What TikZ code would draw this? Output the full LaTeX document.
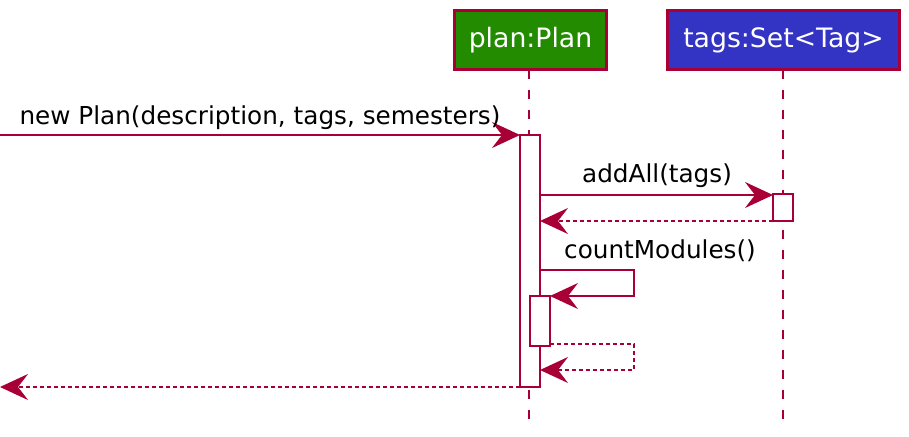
\documentclass[tikz,border=0pt]{standalone}
\usepackage{fontspec}
\setmainfont{DejaVu Sans}
\usetikzlibrary{arrows.meta}
\definecolor{pline}{HTML}{A80036}
\definecolor{pgreen}{HTML}{228B00}
\definecolor{pblue}{HTML}{3333C4}
\begin{document}
\begin{tikzpicture}[x=1pt,y=-1pt,
  every node/.style={inner sep=0pt,outer sep=0pt},
  lbl/.style={font=\fontsize{24.7}{28}\selectfont,text=black},
  headbox/.style={draw=pline,line width=3pt,font=\fontsize{26.7}{30}\selectfont,text=white},
  life/.style={draw=pline,line width=1.6pt,dash pattern=on 9pt off 11pt},
  actbox/.style={draw=pline,line width=1.6pt,fill=white},
  tipend/.style={-{Stealth[length=28pt,width=26pt,inset=10pt]}},
  msg/.style={draw=pline,line width=1.6pt,tipend},
  ret/.style={draw=pline,line width=1.6pt,dash pattern=on 4pt off 3pt,tipend}]
\useasboundingbox (0,0) rectangle (909,436);
% heads
\node[headbox,fill=pgreen,minimum width=152pt,minimum height=59pt] (plan) at (530.5,40) {plan:Plan};
\node[headbox,fill=pblue,minimum width=232pt,minimum height=59pt] (tags) at (783.5,40) {tags:Set<Tag>};
\coordinate (planEnd) at (529,425);
\coordinate (tagsEnd) at (783,425);
\draw[life] (plan.south -| planEnd) -- (planEnd);
\draw[life] (tags.south -| tagsEnd) -- (tagsEnd);
% activations
\node[actbox,minimum width=20pt,minimum height=252pt] (act1) at (530,261) {};
\node[actbox,minimum width=20pt,minimum height=27pt] (act2) at (783,207.5) {};
\node[actbox,minimum width=20pt,minimum height=50pt] (act3) at (540,321) {};
% incoming
\coordinate (src) at (0,135);
\draw[msg] (src) -- (src -| act1.west);
\node[lbl,anchor=base] (l1) at (260,124) {new Plan(description, tags, semesters)};
% addAll
\draw[msg] (act1.east |- 0,195) coordinate (a1) -- (a1 -| act2.west);
\node[lbl,anchor=base] (l2) at (657,182) {addAll(tags)};
\draw[ret] (act2.west |- 0,221) coordinate (r1) -- (r1 -| act1.east);
% countModules
\coordinate (c1) at (634,270);
\draw[msg] (act1.east |- c1) -- (c1) -- (634,296) -- (act3.east |- 0,296);
\node[lbl,anchor=base] (l3) at (660,258) {countModules()};
\coordinate (c2) at (634,344);
\draw[ret] (act3.east |- c2) -- (c2) -- (634,370) -- (act1.east |- 0,370);
% final return
\coordinate (dst) at (0,387);
\draw[ret] (act1.west |- dst) -- (dst);
\end{tikzpicture}
\end{document}
